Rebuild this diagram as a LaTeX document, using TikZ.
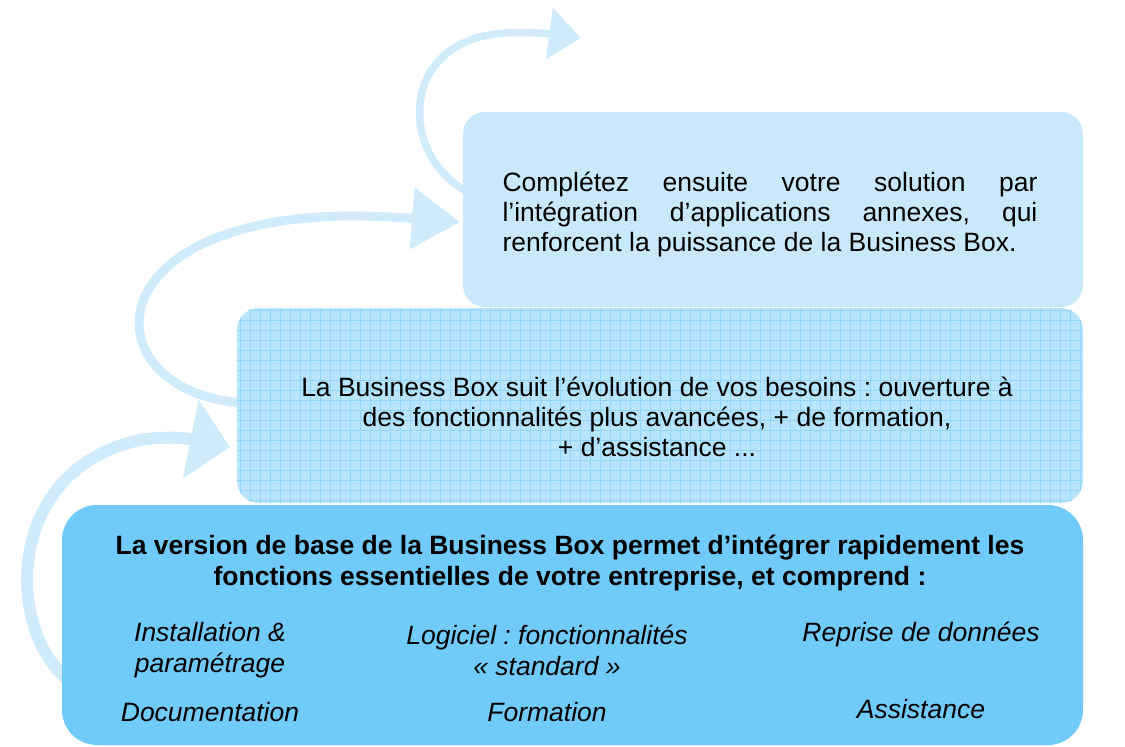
\documentclass[tikz,border=0pt]{standalone}
\usepackage{fontspec}
\setmainfont{Liberation Sans}
\usetikzlibrary{arrows.meta}
\frenchspacing

\definecolor{arrowblue}{HTML}{D0EBFB}
\definecolor{topblue}{HTML}{C9E8FB}
\definecolor{midblue}{HTML}{B8E5FD}
\definecolor{midgrid}{HTML}{92D7FB}
\definecolor{baseblue}{HTML}{70CBFA}

\tikzset{
  box/.style={rounded corners=22pt, inner sep=0pt},
  txt/.style={font=\fontsize{26.5}{30}\selectfont, align=center},
  item/.style={font=\fontsize{26.5}{31}\selectfont\itshape, align=center},
  flow/.style={draw=arrowblue, line cap=butt},
}

\begin{document}
\begin{tikzpicture}[x=1pt,y=-1pt]
    \useasboundingbox (0,0) rectangle (1125,747);

    % curved arrows behind the boxes
    \coordinate (s1) at (75,685);
    \coordinate (e1) at (230,447);
    \coordinate (s2) at (245,403);
    \coordinate (e2) at (460,222);
    \coordinate (s3) at (470,193);
    \coordinate (e3) at (581,38);
    \draw[flow, line width=12pt, -{Triangle[width=78pt,length=40pt]}]
        (s1) .. controls (5,640) and (0,470) .. (140,440) .. controls (165,436) and (185,438) .. (e1);
    \draw[flow, line width=9pt, -{Triangle[width=60pt,length=48pt]}]
        (s2) .. controls (100,395) and (85,232) .. (320,217) .. controls (350,215) and (380,216) .. (e2);
    \draw[flow, line width=7.5pt, -{Triangle[width=50pt,length=32pt]}]
        (s3) .. controls (400,160) and (395,40) .. (505,33) .. controls (525,32) and (545,33) .. (e3);

    % the three steps
    \node[box, fill=topblue, minimum width=620pt, minimum height=195pt] (top) at (773,209.5) {};
    \node[box, fill=midblue, minimum width=846pt, minimum height=195pt] (mid) at (660,405.5) {};
    \begin{scope}
        \clip[rounded corners=22pt] (mid.south west) rectangle (mid.north east);
        \draw[midgrid, line width=0.8pt, step=10pt] (mid.south west) grid (mid.north east);
    \end{scope}
    \node[box, rounded corners=35pt, fill=baseblue, minimum width=1021pt, minimum height=240pt] (base) at (572.5,625) {};

    \node[txt, text width=535pt, align=justify] (toptext) at (770,214)
        {Complétez ensuite votre solution par\linebreak l’intégration d’applications annexes, qui\linebreak renforcent la puissance de la Business Box.};
    \node[txt] (midtext) at (657,417)
        {La Business Box suit l’évolution de vos besoins : ouverture à\\des fonctionnalités plus avancées, + de formation,\\+ d’assistance ...};
    \node[txt, font=\fontsize{26.5}{31}\selectfont\bfseries] (basetext) at (570,563)
        {La version de base de la Business Box permet d’intégrer rapidement les\\fonctions essentielles de votre entreprise, et comprend :};

    \node[item] (install) at (210,650) {Installation \&\\paramétrage};
    \node[item] (doc) at (210,712) {Documentation};
    \node[item] (soft) at (547,650) {Logiciel : fonctionnalités\\«~standard~»};
    \node[item] (training) at (547,712) {Formation};
    \node[item] (data) at (921,634) {Reprise de données};
    \node[item] (help) at (921,709) {Assistance};
\end{tikzpicture}
\end{document}
